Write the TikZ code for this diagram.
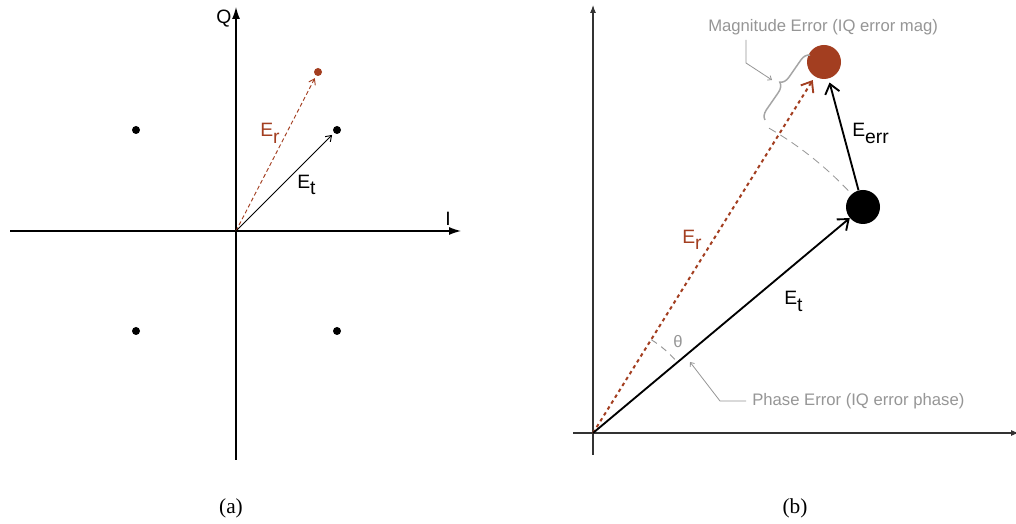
\documentclass[tikz,border=0pt]{standalone}
\usepackage{fontspec}
\setmainfont{Liberation Sans}
\newfontfamily\capfont{Liberation Serif}
\usetikzlibrary{arrows.meta,decorations.pathreplacing}
\definecolor{errred}{RGB}{163,62,32}
\definecolor{notegray}{RGB}{150,150,150}
\definecolor{bracegray}{RGB}{165,165,165}
\newcommand{\Elab}[1]{E\raisebox{-5pt}{#1}}
\begin{document}
\begin{tikzpicture}[x=0.75pt,y=0.75pt,
  axisA/.style={line width=0.9pt,-{Latex[length=9pt,width=6pt]}},
  axisB/.style={line width=0.8pt,black!80,-{Latex[length=6pt,width=4.5pt]}},
  vecthin/.style={line width=0.7pt,-{Straight Barb[length=4pt,width=5.5pt]},shorten >=2pt},
  vecthick/.style={line width=1.4pt,-{Straight Barb[length=7pt,width=11pt]}},
  vecred/.style={line width=1.5pt,errred,dash pattern=on 2.6pt off 2.6pt,
     -{Straight Barb[length=7pt,width=11pt,line width=1.4pt]}},
  dot/.style={circle,fill=black,inner sep=0pt,minimum size=6pt},
  bigdot/.style={circle,inner sep=0pt,minimum size=25.5pt},
  elab/.style={font=\fontsize{14.5}{17}\selectfont,inner sep=0pt,anchor=base west},
  axlab/.style={font=\fontsize{14.5}{17}\selectfont,inner sep=0pt},
  note/.style={font=\fontsize{12.5}{15}\selectfont,text=notegray,inner sep=0pt},
  callout/.style={line width=0.6pt,notegray,-{Straight Barb[length=2.5pt,width=4pt]}},
  captext/.style={font=\capfont\fontsize{16}{19}\selectfont,inner sep=0pt}
]
\useasboundingbox (0,0) rectangle (1016,524);
\fill[white] (0,0) rectangle (1016,524);

% ---------------- panel (a) ----------------
\coordinate (O1) at (236,293);
\coordinate (QB) at (236,64);
\coordinate (QT) at (236,517);
\coordinate (IL) at (10,293);
\coordinate (IR) at (461,293);
\draw[axisA] (QB) -- (QT);
\draw[axisA] (IL) -- (IR);
\node[axlab] (Qlab) at (224,505.5) {Q};
\node[axlab] (Ilab) at (448,305) {I};

\node[dot] (c1) at (136,394) {};
\node[dot] (c2) at (337,394) {};
\node[dot] (c3) at (136,193) {};
\node[dot] (c4) at (337,193) {};
\node[dot,fill=errred] (r1) at (318,452) {};

\draw[vecthin,errred,dash pattern=on 3pt off 2pt] (O1) -- (r1);
\draw[vecthin] (O1) -- (c2);
\node[elab,text=errred] (Era) at (260,387.3) {\Elab{r}};
\node[elab] (Eta) at (297,335.7) {\Elab{t}};

% ---------------- panel (b) ----------------
\coordinate (O2) at (593,91);
\coordinate (VB) at (593,69);
\coordinate (VT) at (593,519);
\coordinate (HL) at (573,91);
\coordinate (HR) at (1019,91);
\draw[axisB] (VB) -- (VT);
\draw[axisB] (HL) -- (HR);

% dashed rotation arc (radius |Et|)
\draw[notegray,line width=0.6pt,dash pattern=on 6pt off 4pt]
  ([shift={(60:352)}]O2) arc[start angle=60,end angle=40,radius=352];
% small angle arc
\draw[notegray,line width=0.7pt,dash pattern=on 5pt off 4pt]
  ([shift={(58:110)}]O2) arc[start angle=58,end angle=40,radius=110];

\node[bigdot,fill=errred] (R) at (824,462) {};
\node[bigdot,fill=black] (T) at (863,317) {};

\draw[vecred,shorten >=3pt] (O2) -- (R);
\draw[vecthick] (O2) -- (T);
\draw[vecthick,shorten >=3pt] (T) -- (R);

\node[elab] (Eerr) at (852,387.3) {\Elab{err}};
\node[elab,text=errred] (Erb) at (682,280.7) {\Elab{r}};
\node[elab] (Etb) at (784,219) {\Elab{t}};
\node[note] (th) at (678,182) {θ};

% magnitude error brace and callout
\coordinate (bA) at (765,404);
\coordinate (bB) at (810,469);
\draw[bracegray,line width=1.1pt,decorate,decoration={brace,amplitude=7pt}] (bA) -- (bB);
\node[note,anchor=base west] (mag) at (708,492.3) {Magnitude Error (IQ error mag)};
\coordinate (m1) at (746,484);
\coordinate (m2) at (746,461);
\coordinate (m3) at (772,444);
\draw[callout] (m1) -- (m2) -- (m3);

% phase error callout
\node[note,anchor=base west] (ph) at (752,118) {Phase Error (IQ error phase)};
\coordinate (p1) at (746,123);
\coordinate (p2) at (720,123);
\coordinate (p3) at (690,162);
\draw[callout] (p1) -- (p2) -- (p3);

% captions
\node[captext] (capa) at (231,16) {(a)};
\node[captext] (capb) at (795,16) {(b)};
\end{tikzpicture}
\end{document}
